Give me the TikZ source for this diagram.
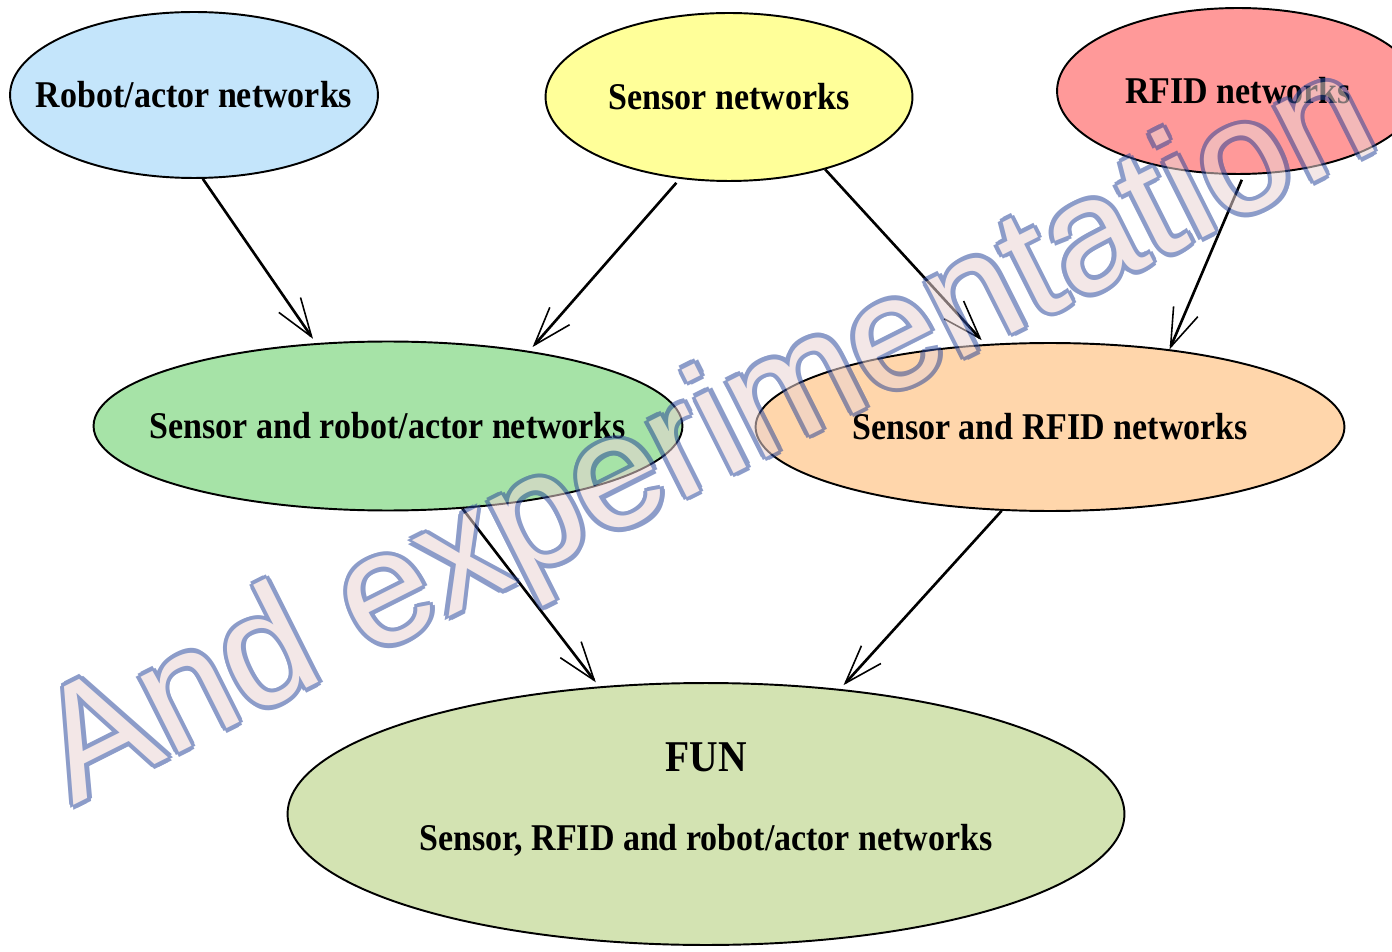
\documentclass[tikz,border=0pt]{standalone}
\usepackage{fontspec}
\setmainfont{Liberation Serif}
\setsansfont{Liberation Sans}
\newfontfamily\netfont[FakeStretch=0.9]{Liberation Serif}
\usetikzlibrary{shapes.geometric, arrows.meta, calc}

\definecolor{robotblue}{HTML}{C4E5FB}
\definecolor{sensoryellow}{HTML}{FFFF99}
\definecolor{rfidred}{HTML}{FF9999}
\definecolor{sragreen}{HTML}{A6E3A7}
\definecolor{srfidpeach}{HTML}{FFD6AB}
\definecolor{fungreen}{HTML}{D3E3B2}
\definecolor{wmline}{HTML}{2E4A9C}
\definecolor{wmfill}{HTML}{EAD3D3}

\begin{document}
\begin{tikzpicture}[x=0.02cm, y=-0.02cm,
    net/.style={draw, ellipse, line width=1.1pt, inner xsep=-1cm, inner ysep=0pt,
        font=\netfont\bfseries\fontsize{21.5}{26}\selectfont},
    link/.style={line width=1.5pt,
        -{Straight Barb[length=22pt, width=15pt, line width=0.9pt]},
        shorten >=3pt},
    wm/.style={font=\sffamily\fontsize{91}{91}\selectfont, rotate=26.7,
        anchor=base, inner sep=0pt}]
    \useasboundingbox (0, 0) rectangle (1392, 952);

    % the three kinds of networks
    \node[net, fill=robotblue, minimum width=7.36cm, minimum height=3.32cm] (robot) at (194, 95) {Robot/actor networks};
    \node[net, fill=sensoryellow, minimum width=7.34cm, minimum height=3.36cm] (sensor) at (729, 97) {Sensor networks};
    \node[net, fill=rfidred, minimum width=7.24cm, minimum height=3.32cm] (rfid) at (1238, 91) {RFID networks};

    % pairs
    \node[net, fill=sragreen, minimum width=11.78cm, minimum height=3.38cm] (sra) at (388, 426) {Sensor and robot/actor networks};
    \node[net, fill=srfidpeach, minimum width=11.78cm, minimum height=3.36cm] (srfid) at (1050, 427) {Sensor and RFID networks};

    % all together
    \node[net, fill=fungreen, minimum width=16.74cm, minimum height=5.24cm, align=center] (fun) at (706, 814)
        {{\fontsize{25}{30}\selectfont FUN}\\[19pt]Sensor, RFID and robot/actor networks\rule[-20pt]{0pt}{20pt}};

    \draw[link] (robot.-84) -- (sra.131);
    \draw[link, shorten <=3pt] (sensor.-121) -- (sra.28.5);
    \draw[link] (sensor.-37) -- (srfid.128);
    \draw[link, shorten <=3pt, shorten >=0pt] (rfid.-86) -- (srfid.33);
    \draw[link] (sra.-48) -- (fun.130);
    \draw[link] (srfid.-120) -- (fun.43.5);

    % watermark
    \coordinate (wmbase) at (729, 476);
    \begin{scope}[transparency group, opacity=0.55]
        \foreach \a in {0, 45, ..., 315}
            \node[wm, text=wmline] (wmo\a) at ($(wmbase) + (\a:2.6pt)$) {And experimentation};
        \node[wm, text=wmfill] (wm) at (wmbase) {And experimentation};
    \end{scope}
\end{tikzpicture}
\end{document}
